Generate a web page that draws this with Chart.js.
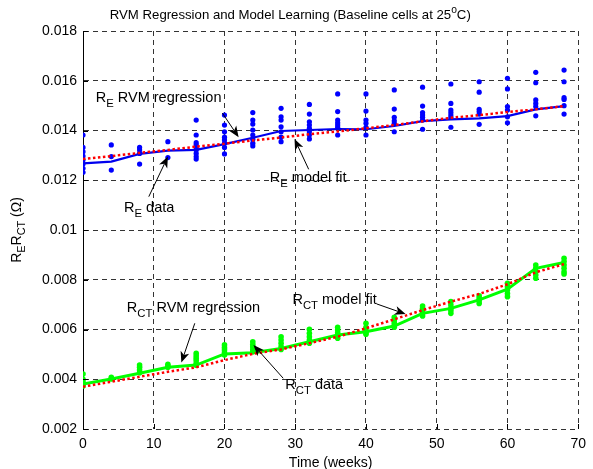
<!DOCTYPE html>
<html>
<head>
<meta charset="utf-8">
<script src="https://cdn.jsdelivr.net/npm/chart.js@4"></script>
<style>
  html, body { margin: 0; padding: 0; background: #fff; }
  #wrap { width: 593px; height: 469px; }
</style>
</head>
<body>
<div id="wrap"><canvas id="chart" width="593" height="469"></canvas></div>
<script>
// sampling weeks
const weeks = [0, 4, 8, 12, 16, 20, 24, 28, 32, 36, 40, 44, 48, 52, 56, 60, 64, 68];

// R_E measured cells, one list per week
const reData = [
  [0.01382, 0.01332, 0.01315, 0.01297, 0.01281, 0.01265, 0.01248, 0.01232],
  [0.01342, 0.01295, 0.01241],
  [0.01332, 0.01322, 0.01308, 0.01265],
  [0.01355, 0.01291],
  [0.01442, 0.01382, 0.01351, 0.01342, 0.01332, 0.01322, 0.01308, 0.01295, 0.01285],
  [0.01462, 0.01422, 0.01395, 0.01373, 0.01362, 0.01349, 0.01332, 0.01306],
  [0.01472, 0.01442, 0.01426, 0.01402, 0.01382, 0.01365, 0.01349, 0.01338],
  [0.01489, 0.01455, 0.01442, 0.01415, 0.01395, 0.01373, 0.01355],
  [0.01505, 0.01466, 0.01435, 0.01422, 0.01409, 0.01395, 0.01382, 0.01366],
  [0.01547, 0.01476, 0.01442, 0.01431, 0.01422, 0.01413, 0.01382],
  [0.01547, 0.01478, 0.01442, 0.01429, 0.01413, 0.01382],
  [0.01563, 0.01486, 0.01453, 0.01439, 0.01429, 0.01395],
  [0.01574, 0.01498, 0.01472, 0.01462, 0.01453, 0.01442, 0.01405],
  [0.01587, 0.01509, 0.01482, 0.01472, 0.01462, 0.01453, 0.01413],
  [0.01596, 0.01554, 0.01485, 0.01476, 0.01466, 0.01425],
  [0.01610, 0.01567, 0.01496, 0.01482, 0.01455, 0.01431],
  [0.01634, 0.01592, 0.01523, 0.01509, 0.01496, 0.01459],
  [0.01643, 0.01596, 0.01532, 0.01525, 0.01500, 0.01466]
];
const reRvm = [0.01268, 0.01275, 0.01306, 0.01319, 0.01322, 0.01345, 0.01371, 0.01398, 0.01402,
  0.01406, 0.01405, 0.01418, 0.01438, 0.01445, 0.01449, 0.01458, 0.01485, 0.01498];
const reFit = [0.01285, 0.01297, 0.01310, 0.01322, 0.01335, 0.01347, 0.01360, 0.01372, 0.01385,
  0.01396, 0.01409, 0.01422, 0.01437, 0.01451, 0.01462, 0.01474, 0.01485, 0.01498];

// R_CT measured cells
const rctData = [
  [0.00421, 0.00400, 0.00390, 0.00381, 0.00373],
  [0.00408, 0.00401],
  [0.00457, 0.00448, 0.00437, 0.00426],
  [0.00460, 0.00453, 0.00448],
  [0.00504, 0.00493, 0.00484, 0.00475, 0.00464, 0.00456],
  [0.00538, 0.00527, 0.00518, 0.00507, 0.00497],
  [0.00551, 0.00540, 0.00531, 0.00520, 0.00511],
  [0.00571, 0.00558, 0.00545, 0.00531, 0.00520],
  [0.00601, 0.00585, 0.00571, 0.00558, 0.00545],
  [0.00609, 0.00598, 0.00587, 0.00578, 0.00565],
  [0.00625, 0.00609, 0.00598, 0.00587, 0.00581],
  [0.00649, 0.00638, 0.00627, 0.00618, 0.00609],
  [0.00694, 0.00685, 0.00676, 0.00665, 0.00654],
  [0.00712, 0.00698, 0.00685, 0.00676, 0.00665],
  [0.00735, 0.00725, 0.00716, 0.00705],
  [0.00786, 0.00772, 0.00759, 0.00745, 0.00732],
  [0.00859, 0.00846, 0.00832, 0.00819, 0.00806],
  [0.00886, 0.00873, 0.00859, 0.00846, 0.00832, 0.00823]
];
const rctRvm = [0.00381, 0.00401, 0.00424, 0.00448, 0.00457, 0.00502, 0.00507, 0.00524, 0.00551,
  0.00578, 0.00591, 0.00614, 0.00665, 0.00685, 0.00719, 0.00762, 0.00846, 0.00869];
const rctFit = [0.00370, 0.00390, 0.00410, 0.00430, 0.00448, 0.00477, 0.00502, 0.00520, 0.00545,
  0.00571, 0.00605, 0.00641, 0.00678, 0.00712, 0.00743, 0.00782, 0.00830, 0.00863];

const xTicks = [0, 10, 20, 30, 40, 50, 60, 70];
const yTicks = [0.002, 0.004, 0.006, 0.008, 0.01, 0.012, 0.014, 0.016, 0.018];

// text labels with arrows, in data units: [label parts, text x, text y, arrow from, arrow to]
const notes = [
  [[['R'], ['E', 'sub'], [' RVM regression']], 1.8, 0.01530, [19.7, 0.01470], [22.0, 0.01373]],
  [[['R'], ['E', 'sub'], [' data']], 5.8, 0.01088, [9.3, 0.01134], [12.0, 0.01295]],
  [[['R'], ['E', 'sub'], [' model fit']], 26.4, 0.01209, [31.9, 0.01244], [29.9, 0.01366]],
  [[['R'], ['CT', 'sub'], [' RVM regression']], 6.2, 0.00686, [15.8, 0.00625], [13.9, 0.00467]],
  [[['R'], ['CT', 'sub'], [' data']], 28.6, 0.00375, [28.3, 0.00404], [24.1, 0.00538]],
  [[['R'], ['CT', 'sub'], [' model fit']], 29.6, 0.00719, [41.5, 0.00703], [45.6, 0.00662]]
];

const FONT = '"Liberation Sans", Arial, Helvetica, sans-serif';

function cloud(lists) {
  const pts = [];
  lists.forEach((vals, i) => vals.forEach(v => pts.push({ x: weeks[i], y: v })));
  return pts;
}
function curve(vals) {
  return vals.map((v, i) => ({ x: weeks[i], y: v }));
}

// draws text made of normal / sub / sup pieces, left aligned, vertically centred on y
function richText(ctx, parts, x, y, size) {
  let cx = x;
  ctx.textBaseline = 'middle';
  ctx.textAlign = 'left';
  parts.forEach(([t, kind]) => {
    const small = kind === 'sub' || kind === 'sup';
    const fs = small ? size * 0.78 : size;
    ctx.font = fs + 'px ' + FONT;
    const dy = kind === 'sub' ? size * 0.38 : kind === 'sup' ? -size * 0.38 : 0;
    ctx.fillText(t, cx, y + dy);
    cx += ctx.measureText(t).width;
  });
  return cx - x;
}
function richWidth(ctx, parts, size) {
  let w = 0;
  parts.forEach(([t, kind]) => {
    const fs = (kind === 'sub' || kind === 'sup') ? size * 0.78 : size;
    ctx.font = fs + 'px ' + FONT;
    w += ctx.measureText(t).width;
  });
  return w;
}

function arrow(ctx, x1, y1, x2, y2) {
  const a = Math.atan2(y2 - y1, x2 - x1);
  const len = 11, half = 4.5, back = 8;
  ctx.beginPath();
  ctx.moveTo(x1, y1);
  ctx.lineTo(x2 - Math.cos(a) * back, y2 - Math.sin(a) * back);
  ctx.lineWidth = 1;
  ctx.strokeStyle = '#000';
  ctx.stroke();
  const bx = x2 - Math.cos(a) * len, by = y2 - Math.sin(a) * len;
  const nx = -Math.sin(a), ny = Math.cos(a);
  ctx.beginPath();
  ctx.moveTo(x2, y2);
  ctx.lineTo(bx + nx * half, by + ny * half);
  ctx.lineTo(x2 - Math.cos(a) * back, y2 - Math.sin(a) * back);
  ctx.lineTo(bx - nx * half, by - ny * half);
  ctx.closePath();
  ctx.fillStyle = '#000';
  ctx.fill();
}

const decor = {
  id: 'decor',
  afterDatasetsDraw(chart) {
    const { ctx, chartArea: a, scales: { x, y } } = chart;
    ctx.save();
    // inward tick marks
    ctx.strokeStyle = '#000';
    ctx.lineWidth = 1;
    ctx.beginPath();
    xTicks.forEach(t => {
      const px = Math.round(x.getPixelForValue(t)) + 0.5;
      ctx.moveTo(px, a.bottom); ctx.lineTo(px, a.bottom - 5);
    });
    yTicks.forEach(t => {
      const py = Math.round(y.getPixelForValue(t)) + 0.5;
      ctx.moveTo(a.left, py); ctx.lineTo(a.left + 5, py);
    });
    ctx.stroke();
    // notes and arrows
    ctx.fillStyle = '#000';
    notes.forEach(([parts, tx, ty, from, to]) => {
      arrow(ctx, x.getPixelForValue(from[0]), y.getPixelForValue(from[1]),
        x.getPixelForValue(to[0]), y.getPixelForValue(to[1]));
      ctx.fillStyle = '#000';
      richText(ctx, parts, x.getPixelForValue(tx), y.getPixelForValue(ty), 14.5);
    });
    // title
    const title = [['RVM Regression and Model Learning (Baseline cells at 25'], ['o', 'sup'], ['C)']];
    const tw = richWidth(ctx, title, 13.2);
    richText(ctx, title, x.getPixelForValue(29.3) - tw / 2, 15, 13.2);
    // y axis title, rotated
    const yt = [['R'], ['E', 'sub'], ['R'], ['CT', 'sub'], [' (\u03A9)']];
    const yw = richWidth(ctx, yt, 14);
    ctx.translate(17, (a.top + a.bottom) / 2);
    ctx.rotate(-Math.PI / 2);
    richText(ctx, yt, -yw / 2, 0, 14);
    ctx.restore();
  }
};

new Chart(document.getElementById('chart'), {
  type: 'scatter',
  data: {
    datasets: [
      { data: curve(reFit), showLine: true, pointRadius: 0, borderColor: '#ff0000', borderWidth: 2.5, borderDash: [2.5, 2.5], order: 1 },
      { data: curve(rctFit), showLine: true, pointRadius: 0, borderColor: '#ff0000', borderWidth: 2.5, borderDash: [2.5, 2.5], order: 1 },
      { data: curve(reRvm), showLine: true, pointRadius: 0, borderColor: '#0000ee', borderWidth: 2.2, order: 2 },
      { data: curve(rctRvm), showLine: true, pointRadius: 0, borderColor: '#00ff00', borderWidth: 3, order: 2 },
      { data: cloud(reData), pointRadius: 2.6, pointBackgroundColor: '#0000ff', pointBorderWidth: 0, order: 3 },
      { data: cloud(rctData), pointRadius: 2.8, pointBackgroundColor: '#00ff00', pointBorderWidth: 0, order: 3 }
    ]
  },
  options: {
    responsive: false,
    animation: false,
    events: [],
    layout: { padding: { top: 31, left: 0, right: 6, bottom: 0 } },
    plugins: { legend: { display: false }, tooltip: { enabled: false } },
    scales: {
      x: {
        type: 'linear', min: 0, max: 70,
        afterFit: s => { s.height = 40; },
        afterBuildTicks: s => { s.ticks = xTicks.map(v => ({ value: v })); },
        ticks: { color: '#000', padding: 7, font: { family: FONT, size: 14 } },
        grid: { color: '#333', lineWidth: 1, drawTicks: false },
        border: { display: false, dash: [5, 4] },
        title: { display: true, text: 'Time (weeks)', color: '#000', font: { family: FONT, size: 14 }, padding: { top: 0, bottom: -3 } }
      },
      y: {
        type: 'linear', min: 0.002, max: 0.018,
        afterFit: s => { s.width = 83; },
        afterBuildTicks: s => { s.ticks = yTicks.map(v => ({ value: v })); },
        ticks: { color: '#000', padding: 6, font: { family: FONT, size: 14 }, callback: v => String(+v.toFixed(3)) },
        grid: { color: '#333', lineWidth: 1, drawTicks: false },
        border: { display: true, color: '#000', width: 1, dash: [5, 4] }
      }
    }
  },
  plugins: [decor]
});
</script>
</body>
</html>
